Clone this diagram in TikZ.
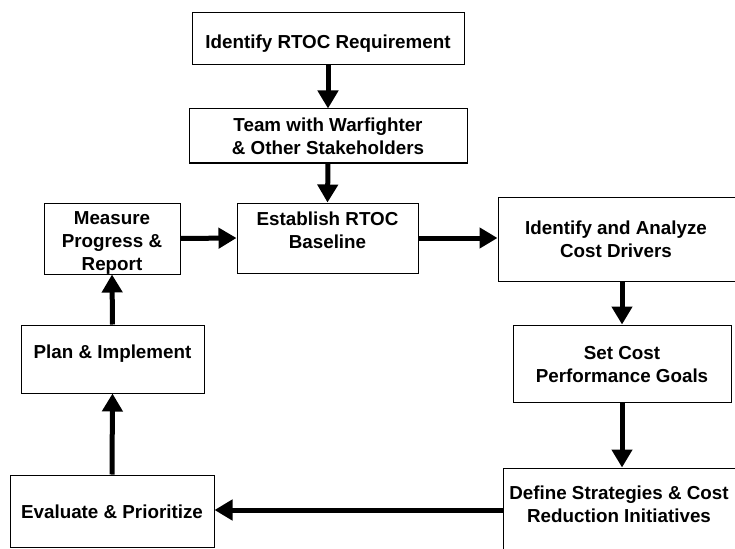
\documentclass[tikz,border=0pt]{standalone}
\usepackage{fontspec}
\setmainfont{Liberation Sans}
\usetikzlibrary{arrows.meta,calc}
\tikzset{
  box/.style={draw=black, line width=1pt, rectangle, inner sep=0pt, fill=white},
  lbl/.style={font=\fontsize{18.8}{23}\selectfont\bfseries, align=center, inner sep=0pt, anchor=base},
  arr/.style={line width=5pt, -{Triangle[length=18pt,width=20pt]}, shorten >=0pt}
}
\begin{document}
\begin{tikzpicture}[x=1pt,y=-1pt]
\useasboundingbox (0,0) rectangle (735,548);
\clip (0,0) rectangle (735,548);
% boxes
\node[box, minimum width=272pt, minimum height=52pt] (idr) at (328,39) {};
\node[box, minimum width=278pt, minimum height=54pt] (team) at (328,136) {};
\node[box, minimum width=181pt, minimum height=70pt] (est) at (327.5,238) {};
\node[box, minimum width=136pt, minimum height=71pt] (mpr) at (112,238.5) {};
\node[box, minimum width=262pt, minimum height=84pt] (icd) at (629,239) {};
\node[box, minimum width=218pt, minimum height=77pt] (scg) at (622,363.5) {};
\node[box, minimum width=257pt, minimum height=112pt] (dsc) at (631.5,524) {};
\node[box, minimum width=183pt, minimum height=68pt] (pim) at (112.5,359) {};
\node[box, minimum width=204pt, minimum height=72pt] (evp) at (112,511) {};
% labels (anchor=base is the baseline of the last line)
\node[lbl] (t1) at (328,48.3) {Identify RTOC Requirement};
\node[lbl] (t2) at (328,155) {Team with Warfighter\\\& Other Stakeholders};
\node[lbl] (t3) at (327.5,248) {Establish RTOC\\Baseline};
\node[lbl] (t4) at (112,270) {Measure\\Progress \&\\Report};
\node[lbl] (t5) at (616,257) {Identify and Analyze\\Cost Drivers};
\node[lbl] (t6) at (622,382) {Set Cost\\Performance Goals};
\node[lbl] (t7) at (619,522) {Define Strategies \& Cost\\Reduction Initiatives};
\node[lbl] (t8) at (112.5,358) {Plan \& Implement};
\node[lbl] (t9) at (112,518) {Evaluate \& Prioritize};
% connectors
\draw[arr] (idr.south) -- (team.north);
\draw[arr] (team.south) -- (est.north);
\draw[arr] (mpr.east) -- (est.west);
\draw[arr] (est.east) -- (est.east -| icd.west);
\draw[arr] ([xshift=-7pt]icd.south) -- (scg.north);
\draw[arr] (scg.south) -- (scg.south |- dsc.north);
\draw[arr] (dsc.west |- 0,510) -- (evp.east |- 0,510);
\draw[arr] (evp.north) -- (pim.north |- pim.south);
\draw[arr] (pim.north) -- (mpr.south);
\end{tikzpicture}
\end{document}
